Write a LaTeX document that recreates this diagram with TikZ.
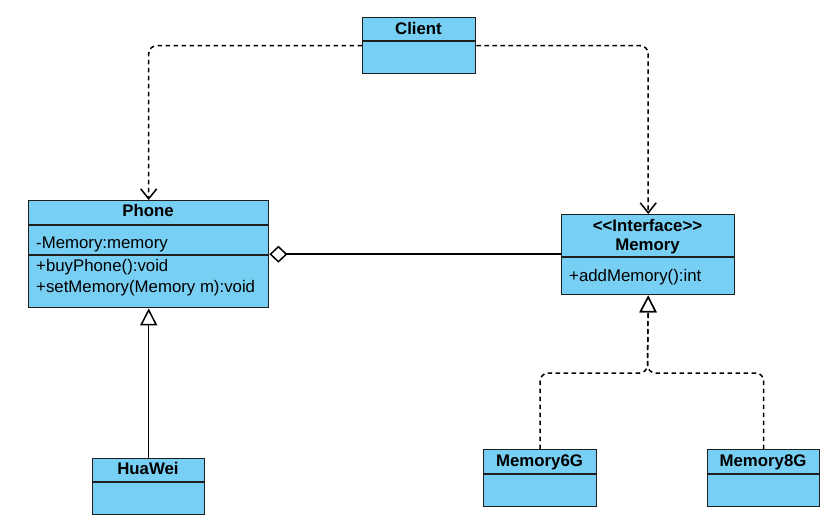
\documentclass[tikz,border=0pt]{standalone}
\usepackage{fontspec}
\setmainfont{Liberation Sans}
\usetikzlibrary{arrows.meta}
\definecolor{classblue}{RGB}{120,207,244}
\definecolor{edge}{RGB}{30,30,30}
\begin{document}
\begin{tikzpicture}[x=1pt,y=-1pt,
  classbox/.style={draw=edge, fill=classblue, line width=1.4pt, inner sep=0pt, anchor=north west},
  divider/.style={draw=edge, line width=1.4pt},
  title/.style={font=\fontsize{16.8}{18}\selectfont\bfseries, inner sep=0pt, anchor=base},
  member/.style={font=\fontsize{16.8}{18}\selectfont, inner sep=0pt, anchor=base west},
  link/.style={draw=black, line width=1.5pt, line join=round, rounded corners=8pt},
  dep/.style={link, dash pattern=on 4.5pt off 3.5pt, -{Straight Barb[length=10pt,width=16pt]}},
  realize/.style={link, dash pattern=on 4.5pt off 3.5pt, -{Triangle[length=17pt,width=17pt,fill=white]}},
  inherit/.style={link, -{Triangle[length=17pt,width=17pt,fill=white]}},
  aggregate/.style={link, {Diamond[length=18pt,width=17pt,fill=white]}-},
]
\path[fill=white] (0,0) rectangle (829,528);
\useasboundingbox (0,0) rectangle (829,528);

% Client
\node[classbox, minimum width=113pt, minimum height=56pt] (client) at (362,17) {};
\draw[divider] (362,41) -- (475,41);
\node[title] (clientT) at (418.5,34.3) {Client};

% Phone
\node[classbox, minimum width=240pt, minimum height=107pt] (phone) at (28,200) {};
\draw[divider] (28,225) -- (268,225);
\draw[divider] (28,255) -- (268,255);
\node[title] (phoneT) at (148,216.7) {Phone};
\node[member] (phoneA) at (36,248) {-Memory:memory};
\node[member] (phoneO1) at (36,271) {+buyPhone():void};
\node[member] (phoneO2) at (36,292.5) {+setMemory(Memory m):void};

% Memory interface
\node[classbox, minimum width=173pt, minimum height=80pt] (memory) at (561,214) {};
\draw[divider] (561,257) -- (734,257);
\node[title] (memoryS) at (647.5,231) {{<}{<}Interface{>}{>}};
\node[title] (memoryT) at (647.5,250) {Memory};
\node[member] (memoryO) at (569,281.7) {+addMemory():int};

% HuaWei
\node[classbox, minimum width=112pt, minimum height=56pt] (huawei) at (92,458) {};
\draw[divider] (92,482) -- (204,482);
\node[title] (huaweiT) at (148,474.3) {HuaWei};

% Memory6G
\node[classbox, minimum width=113pt, minimum height=57pt] (m6) at (483,449) {};
\draw[divider] (483,474) -- (596,474);
\node[title] (m6T) at (539.5,466.7) {Memory6G};

% Memory8G
\node[classbox, minimum width=112pt, minimum height=57pt] (m8) at (707,449) {};
\draw[divider] (707,474) -- (819,474);
\node[title] (m8T) at (763,466.7) {Memory8G};

% Relations
\coordinate (join) at (647.5,373);
\draw[dep] (client.west) -| (phone.north);
\draw[dep] (client.east) -| (memory.north);
\draw[aggregate] (phone.east) -- (phone.east -| memory.west);
\draw[inherit] (huawei.north) -- (phone.south);
\draw[realize] (m6.north) |- (join) -- (memory.south);
\draw[realize] (m8.north) |- (join) -- (memory.south);
\end{tikzpicture}
\end{document}
